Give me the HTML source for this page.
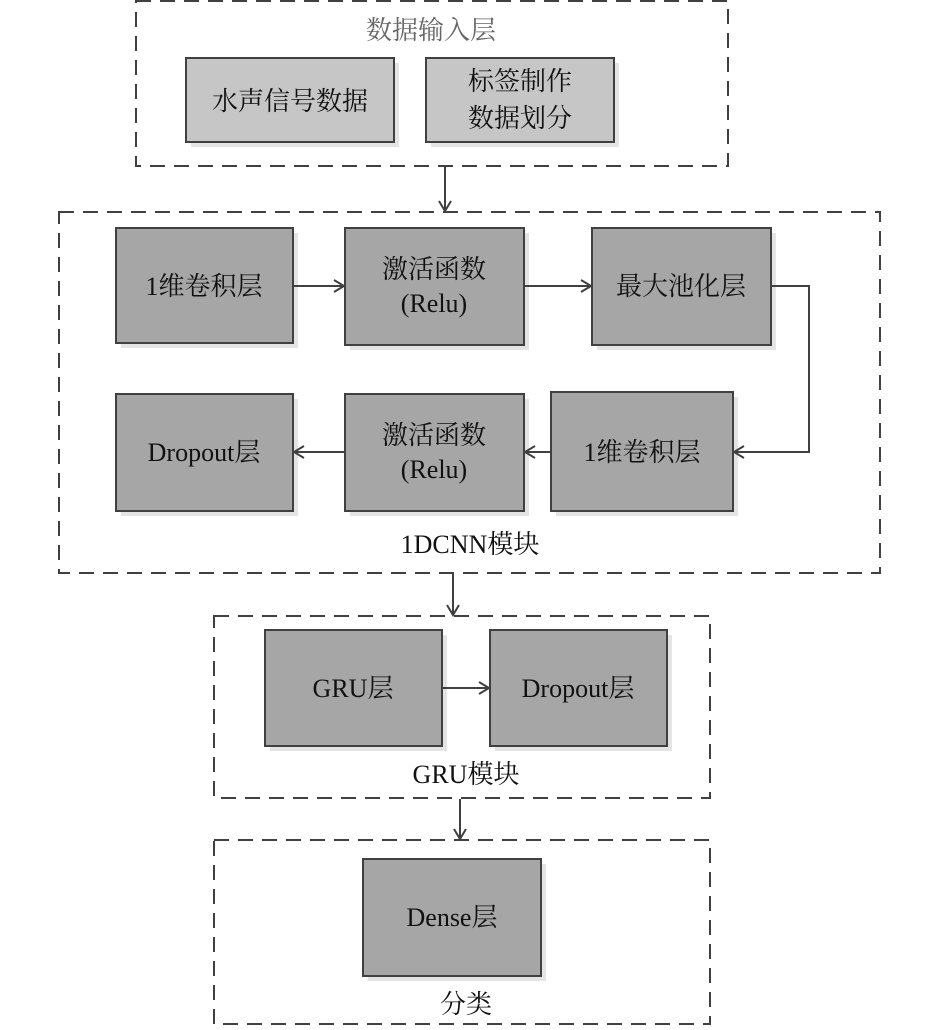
<!DOCTYPE html>
<html><head><meta charset="utf-8"><style>
html,body{margin:0;padding:0;background:#fff;}
svg{display:block;}
text{font-family:"Liberation Serif","Noto Serif CJK SC","Noto Sans CJK SC",serif;fill:#111;}
</style></head><body>
<svg width="945" height="1030" viewBox="0 0 945 1030" xmlns="http://www.w3.org/2000/svg">
<defs>
<marker id="a" markerWidth="14" markerHeight="14" refX="11" refY="7" orient="auto" markerUnits="userSpaceOnUse">
<path d="M1,1 L11,7 L1,13" fill="none" stroke="#404040" stroke-width="2"/>
</marker>
</defs>
<g fill="none" stroke="#404040" stroke-width="2" stroke-dasharray="15,9">
<rect x="136" y="1" width="592" height="165"/>
<rect x="59" y="212" width="821" height="361"/>
<rect x="214" y="616" width="496" height="182"/>
<rect x="214" y="840" width="496" height="184"/>
</g>
<g fill="#e4e4e4">
<rect x="191" y="63" width="208" height="84"/><rect x="431" y="63" width="188" height="84"/>
<rect x="121" y="233" width="177" height="115"/><rect x="350" y="233" width="179" height="117"/><rect x="597" y="233" width="179" height="117"/>
<rect x="121" y="399" width="177" height="117"/><rect x="350" y="399" width="179" height="117"/><rect x="556" y="397" width="182" height="119"/>
<rect x="270" y="635" width="177" height="116"/><rect x="495" y="635" width="177" height="116"/>
<rect x="368" y="864" width="178" height="117"/>
</g>
<g stroke="#404040" stroke-width="2">
<rect x="186" y="58" width="208" height="84" fill="#c6c6c6"/>
<rect x="426" y="58" width="188" height="84" fill="#c6c6c6"/>
<g fill="#a6a6a6">
<rect x="116" y="228" width="177" height="115"/>
<rect x="345" y="228" width="179" height="117"/>
<rect x="592" y="228" width="179" height="117"/>
<rect x="116" y="394" width="177" height="117"/>
<rect x="345" y="394" width="179" height="117"/>
<rect x="551" y="392" width="182" height="119"/>
<rect x="265" y="630" width="177" height="116"/>
<rect x="490" y="630" width="177" height="116"/>
<rect x="363" y="859" width="178" height="117"/>
</g>
</g>
<g fill="none" stroke="#404040" stroke-width="2" marker-end="url(#a)">
<line x1="445" y1="167" x2="445" y2="211"/>
<line x1="293" y1="286" x2="344" y2="286"/>
<line x1="524" y1="286" x2="591" y2="286"/>
<polyline points="771,286 809,286 809,452 734,452"/>
<line x1="551" y1="452" x2="525" y2="452"/>
<line x1="345" y1="452" x2="294" y2="452"/>
<line x1="453" y1="574" x2="453" y2="615"/>
<line x1="442" y1="688" x2="489" y2="688"/>
<line x1="460" y1="799" x2="460" y2="839"/>
</g>
<g font-size="26" text-anchor="middle">
<text x="431" y="39" fill="#666" style="fill:#666">数据输入层</text>
<text x="290" y="110">水声信号数据</text>
<text x="520" y="90">标签制作</text>
<text x="520" y="127">数据划分</text>
<text x="204" y="295">1维卷积层</text>
<text x="434" y="278">激活函数</text>
<text x="434" y="312">(Relu)</text>
<text x="681" y="295">最大池化层</text>
<text x="204" y="461">Dropout层</text>
<text x="434" y="444">激活函数</text>
<text x="434" y="478">(Relu)</text>
<text x="642" y="461">1维卷积层</text>
<text x="470" y="553">1DCNN模块</text>
<text x="353" y="697">GRU层</text>
<text x="578" y="697">Dropout层</text>
<text x="466" y="783">GRU模块</text>
<text x="452" y="926">Dense层</text>
<text x="466" y="1013">分类</text>
</g>
</svg>
</body></html>
